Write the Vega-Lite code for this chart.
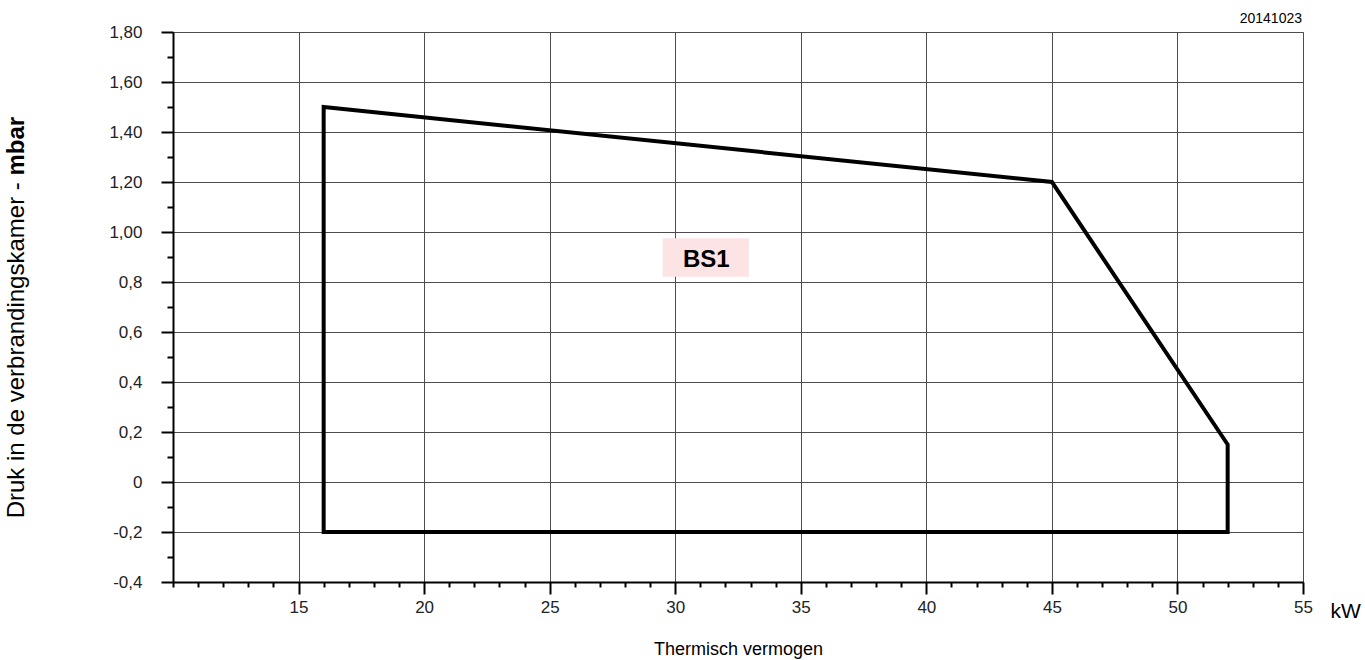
{
  "$schema": "https://vega.github.io/schema/vega-lite/v6.json",
  "width": 1130,
  "height": 550,
  "autosize": {"type": "none"},
  "padding": {"left": 173, "top": 32, "right": 62, "bottom": 78},
  "background": "white",
  "config": {
    "view": {"stroke": "#808080", "strokeWidth": 1},
    "font": "Liberation Sans",
    "axis": {
      "domainColor": "#000",
      "domainWidth": 2,
      "tickColor": "#000",
      "tickWidth": 2,
      "gridColor": "#4d4d4d",
      "gridWidth": 1,
      "gridOpacity": 1,
      "labelColor": "#222",
      "labelFont": "Liberation Sans Narrow, Liberation Sans",
      "labelFontSize": 17,
      "labelFlush": false,
      "labelOverlap": false,
      "labelBound": false,
      "titleColor": "#000",
      "titleFont": "Liberation Sans",
      "titleFontWeight": "normal"
    }
  },
  "resolve": {"axis": {"x": "independent", "y": "independent"}},
  "layer": [
    {
      "data": {"values": [{"x1": 29.5, "x2": 32.93, "y1": 0.821, "y2": 0.975}]},
      "mark": {"type": "rect", "color": "#fde4e4"},
      "encoding": {
        "x": {"field": "x1", "type": "quantitative",
              "scale": {"domain": [10, 55], "nice": false, "zero": false},
              "axis": {"orient": "bottom", "values": [10,11,12,13,14,16,17,18,19,21,22,23,24,26,27,28,29,31,32,33,34,36,37,38,39,41,42,43,44,46,47,48,49,51,52,53,54],
                       "tickSize": 5, "labels": false, "domain": false, "grid": false, "title": null}},
        "x2": {"field": "x2"},
        "y": {"field": "y1", "type": "quantitative",
              "scale": {"domain": [-0.4, 1.8], "nice": false, "zero": false},
              "axis": {"orient": "left", "values": [-0.3,-0.1,0.1,0.3,0.5,0.7,0.9,1.1,1.3,1.5,1.7],
                       "tickSize": 6, "labels": false, "domain": false, "grid": false, "title": null}},
        "y2": {"field": "y2"}
      }
    },
    {
      "data": {"values": [
        {"i": 1, "x": 16, "y": -0.2},
        {"i": 2, "x": 16, "y": 1.5},
        {"i": 3, "x": 45, "y": 1.2},
        {"i": 4, "x": 52, "y": 0.15},
        {"i": 5, "x": 52, "y": -0.2},
        {"i": 6, "x": 16, "y": -0.2}
      ]},
      "mark": {"type": "line", "color": "#000", "strokeWidth": 4, "strokeJoin": "miter", "strokeCap": "square"},
      "encoding": {
        "x": {"field": "x", "type": "quantitative",
              "scale": {"domain": [10, 55], "nice": false, "zero": false},
              "axis": {"orient": "bottom", "values": [15,20,25,30,35,40,45,50,55],
                       "tickSize": 12, "labelPadding": 5, "grid": true,
                       "title": "Thermisch vermogen", "titleFontSize": 18, "titlePadding": 25}},
        "y": {"field": "y", "type": "quantitative",
              "scale": {"domain": [-0.4, 1.8], "nice": false, "zero": false},
              "axis": {"orient": "left", "values": [-0.4,-0.2,0,0.2,0.4,0.6,0.8,1.0,1.2,1.4,1.6,1.8],
                       "tickSize": 12, "labelPadding": 19, "grid": true, "title": null,
                       "labelExpr": "replace(replace(format(datum.value, datum.value > 0.9 ? '.2f' : '.1~f'), '.', ','), '\u2212', '-')"}},
        "order": {"field": "i", "type": "quantitative"}
      }
    },
    {
      "data": {"values": [{"x": 31.24, "y": 0.86, "label": "BS1"}]},
      "mark": {"type": "text", "font": "Liberation Sans", "fontSize": 24, "fontWeight": "bold", "align": "center", "baseline": "alphabetic", "color": "#000"},
      "encoding": {
        "x": {"field": "x", "type": "quantitative", "scale": {"domain": [10, 55], "nice": false, "zero": false}, "axis": null},
        "y": {"field": "y", "type": "quantitative", "scale": {"domain": [-0.4, 1.8], "nice": false, "zero": false}, "axis": null},
        "text": {"field": "label"}
      }
    },
    {
      "data": {"values": [{"x": 54.96, "y": 1.836, "label": "20141023"}]},
      "mark": {"type": "text", "font": "Liberation Sans", "fontSize": 14, "align": "right", "baseline": "alphabetic", "color": "#000"},
      "encoding": {
        "x": {"field": "x", "type": "quantitative", "scale": {"domain": [10, 55], "nice": false, "zero": false}, "axis": null},
        "y": {"field": "y", "type": "quantitative", "scale": {"domain": [-0.4, 1.8], "nice": false, "zero": false}, "axis": null},
        "text": {"field": "label"}
      }
    },
    {
      "data": {"values": [{"x": 56.1, "y": -0.544, "label": "kW"}]},
      "mark": {"type": "text", "font": "Liberation Sans", "fontSize": 21, "align": "left", "baseline": "alphabetic", "color": "#000"},
      "encoding": {
        "x": {"field": "x", "type": "quantitative", "scale": {"domain": [10, 55], "nice": false, "zero": false}, "axis": null},
        "y": {"field": "y", "type": "quantitative", "scale": {"domain": [-0.4, 1.8], "nice": false, "zero": false}, "axis": null},
        "text": {"field": "label"}
      }
    },
    {
      "data": {"values": [{"x": 3.8, "y": 1.1992, "label": "Druk in de verbrandingskamer -"}]},
      "mark": {"type": "text", "font": "Liberation Sans", "fontSize": 24, "angle": 270, "align": "right", "baseline": "middle", "color": "#000"},
      "encoding": {
        "x": {"field": "x", "type": "quantitative", "scale": {"domain": [10, 55], "nice": false, "zero": false}, "axis": null},
        "y": {"field": "y", "type": "quantitative", "scale": {"domain": [-0.4, 1.8], "nice": false, "zero": false}, "axis": null},
        "text": {"field": "label"}
      }
    },
    {
      "data": {"values": [{"x": 3.8, "y": 1.226, "label": "mbar"}]},
      "mark": {"type": "text", "font": "Liberation Sans", "fontSize": 24, "fontWeight": "bold", "angle": 270, "align": "left", "baseline": "middle", "color": "#000"},
      "encoding": {
        "x": {"field": "x", "type": "quantitative", "scale": {"domain": [10, 55], "nice": false, "zero": false}, "axis": null},
        "y": {"field": "y", "type": "quantitative", "scale": {"domain": [-0.4, 1.8], "nice": false, "zero": false}, "axis": null},
        "text": {"field": "label"}
      }
    }
  ]
}
